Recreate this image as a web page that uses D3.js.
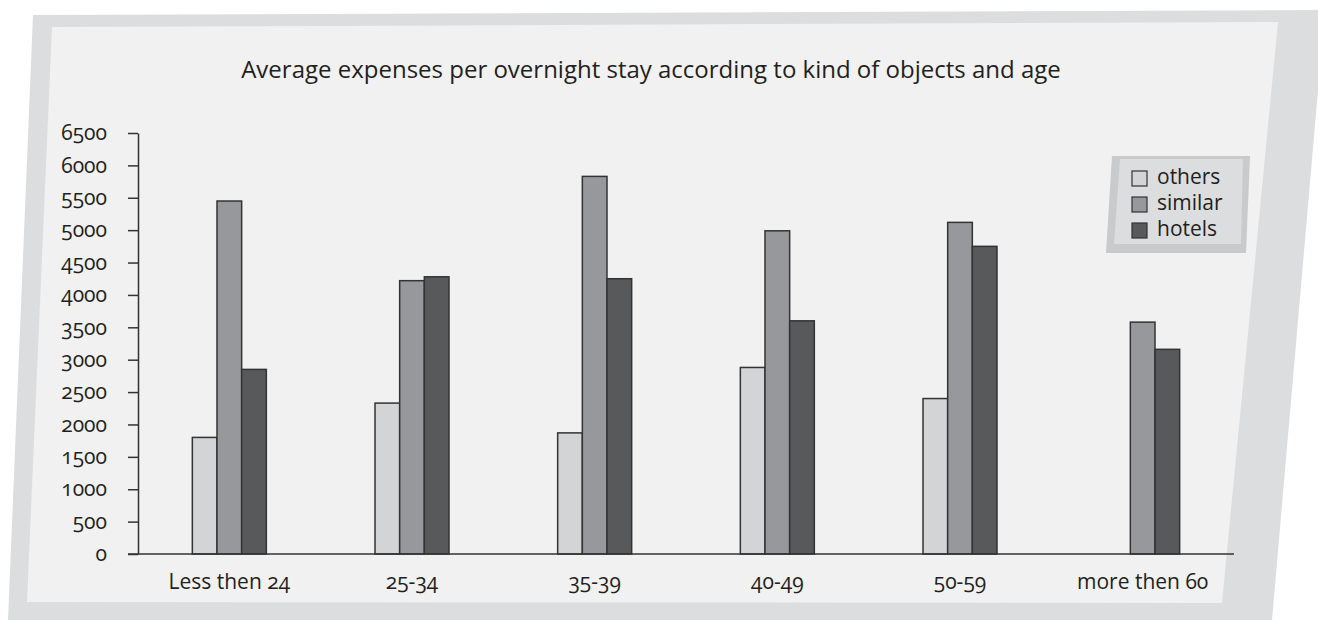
<!DOCTYPE html>
<html>
<head>
<meta charset="utf-8">
<script src="https://cdn.jsdelivr.net/npm/d3@7"></script>
<style>
  body { margin: 0; background: #fff; }
  svg text { font-family: "Open Sans", "Lato", sans-serif; fill: #231f20; font-variant-numeric: oldstyle-nums; font-feature-settings: "onum"; }
</style>
</head>
<body>
<svg id="chart" width="1318" height="620"></svg>
<script>
const categories = ["Less then 24", "25-34", "35-39", "40-49", "50-59", "more then 60"];
const seriesNames = ["others", "similar", "hotels"];
const others = [1800, 2330, 1870, 2880, 2400, 0];
const similar = [5450, 4220, 5830, 4990, 5120, 3580];
const hotels = [2850, 4280, 4250, 3600, 4750, 3160];
const yTicks = [0, 500, 1000, 1500, 2000, 2500, 3000, 3500, 4000, 4500, 5000, 5500, 6000, 6500];

const colors = { others: "#d3d4d6", similar: "#97989b", hotels: "#58595b" };
const values = { others, similar, hotels };

const svg = d3.select("#chart");
const margin = { top: 133, right: 84, bottom: 66, left: 138 },
    width = 1318, height = 620;

// skewed background panels
svg.append("polygon")
    .attr("points", "33,15 1325,10 1272,620 8,620")
    .attr("fill", "#dcdddf");
svg.append("polygon")
    .attr("points", "52,27 1278,22 1222,603 27,602")
    .attr("fill", "#f1f1f1");

const data = categories.map((c, i) => ({
    cat: c,
    vals: seriesNames.map(s => ({ key: s, value: values[s][i] }))
}));

const x = d3.scaleBand()
    .domain(categories)
    .range([margin.left, width - margin.right]);

const groupW = x.bandwidth() * 0.405;
const x1 = d3.scaleBand()
    .domain(seriesNames)
    .range([0, groupW]);

const y = d3.scaleLinear()
    .domain([0, 6500])
    .range([height - margin.bottom, margin.top]);

// title
svg.append("text")
    .attr("x", 651)
    .attr("y", 78)
    .attr("text-anchor", "middle")
    .style("font-size", "24px")
    .text("Average expenses per overnight stay according to kind of objects and age");

// bars
const groups = svg.append("g")
    .selectAll("g")
    .data(data)
    .join("g")
    .attr("transform", d => `translate(${x(d.cat) + (x.bandwidth() - groupW) / 2},0)`);

groups.selectAll("rect")
    .data(d => d.vals.filter(v => v.value > 0))
    .join("rect")
    .attr("x", d => x1(d.key))
    .attr("y", d => y(d.value))
    .attr("width", x1.bandwidth())
    .attr("height", d => y(0) - y(d.value))
    .attr("fill", d => colors[d.key])
    .attr("stroke", "#333335")
    .attr("stroke-width", 1.5);

// y axis
svg.append("g")
    .attr("transform", `translate(${margin.left},0)`)
    .call(d3.axisLeft(y).tickValues(yTicks).tickFormat(d3.format("d"))
        .tickSize(10).tickPadding(21).tickSizeOuter(0))
    .call(g => g.selectAll("line, path").attr("stroke", "#333335").attr("stroke-width", 1.5))
    .call(g => g.selectAll("text").style("font-size", "21px").attr("fill", "#231f20"));

// x axis
const xr = x.range();
svg.append("g")
    .attr("transform", `translate(0,${y(0)})`)
    .call(d3.axisBottom(x).tickSize(0).tickPadding(20))
    .call(g => g.select(".domain")
        .attr("d", `M${xr[0] - 10},0H${xr[1]}`)
        .attr("stroke", "#333335").attr("stroke-width", 1.5))
    .call(g => g.selectAll("text").style("font-size", "21px").attr("fill", "#231f20"));

// legend
const legend = svg.append("g");
legend.append("polygon")
    .attr("points", "1112,156 1250,156 1246,253 1106,253")
    .attr("fill", "#c9cacc");
legend.append("polygon")
    .attr("points", "1120,159 1243,159 1241,244 1114,244")
    .attr("fill", "#dcdddf");

const li = legend.selectAll("g.item")
    .data(seriesNames)
    .join("g")
    .attr("class", "item")
    .attr("transform", (d, i) => `translate(1132,${171 + i * 26})`);
li.append("rect")
    .attr("width", 15)
    .attr("height", 15)
    .attr("fill", d => colors[d])
    .attr("stroke", "#333335")
    .attr("stroke-width", 1.2);
li.append("text")
    .attr("x", 25)
    .attr("y", 13)
    .style("font-size", "21px")
    .text(d => d);
</script>
</body>
</html>
